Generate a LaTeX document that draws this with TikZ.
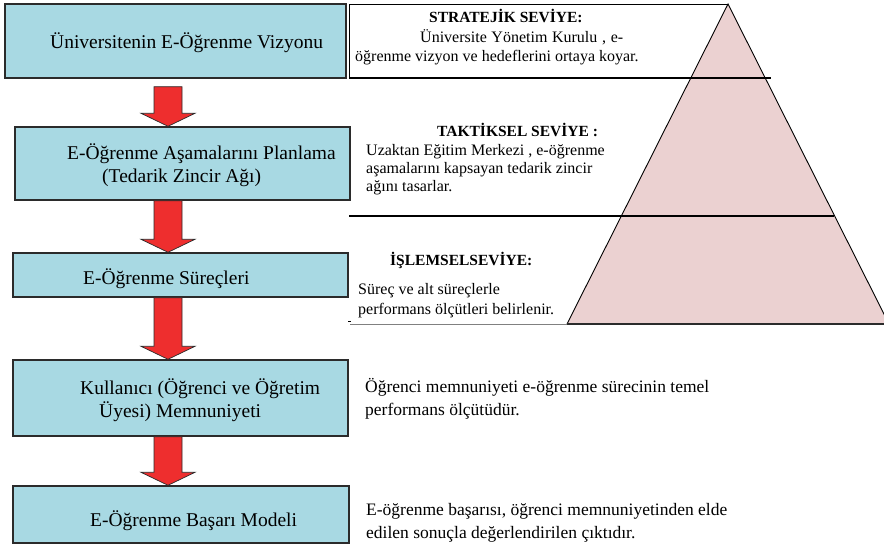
\documentclass[tikz,border=0pt]{standalone}
\usepackage{fontspec}
\setmainfont{LiberationSerif}[Extension=.ttf, UprightFont=*-Regular, BoldFont=*-Bold, ItalicFont=*-Italic, BoldItalicFont=*-BoldItalic]
\usetikzlibrary{calc}
\definecolor{boxblue}{HTML}{A8D9E3}
\definecolor{arrowred}{HTML}{EE2E2E}
\definecolor{pyrpink}{HTML}{EBD1D1}
\definecolor{edge}{HTML}{2B2B2B}
\tikzset{
  flowbox/.style={draw=edge, line width=1.4pt, fill=boxblue, inner sep=0pt},
  boxtext/.style={anchor=base west, inner sep=0pt, font=\fontsize{19.5}{23}\selectfont},
  pyrhead/.style={anchor=base west, inner sep=0pt, font=\fontsize{15.5}{18}\selectfont\bfseries},
  pyrtext/.style={anchor=base west, inner sep=0pt, font=\fontsize{16}{18}\selectfont},
  sidetext/.style={anchor=base west, inner sep=0pt, font=\fontsize{17.5}{21}\selectfont},
  redarrow/.style={draw=edge, line width=0.7pt, fill=arrowred},
  levelline/.style={draw=black, line width=1.2pt}
}
\newcommand\blockarrow[3]{% from node, to node, top gap
  \path let \p1=(#1.south), \p2=(#2.north) in
    [redarrow] (154pt,\y1-#3) -- (182pt,\y1-#3) -- (182pt,\y2+13pt) -- (195pt,\y2+13pt)
    -- (168pt,\y2) -- (141pt,\y2+13pt) -- (154pt,\y2+13pt) -- cycle;}
\begin{document}
\begin{tikzpicture}[x=1pt,y=-1pt]
\useasboundingbox (0,0) rectangle (884,546);
\clip (0,0) rectangle (884,546);
% pyramid
\fill[pyrpink] (728,4) -- (567,324) -- (889,324) -- cycle;
\draw[black, line width=0.9pt] (567,324) -- (728,4) -- (889,324);
\draw[edge, line width=2pt] (567,324) -- (884,324);
\draw[black, line width=0.8pt] (728,4) -- (349,4) -- (349,78);
\draw[levelline, line width=1.6pt] (349,78) -- (771,78);
\draw[levelline] (349,216) -- (834,216);
\draw[gray, line width=0.8pt] (350,324) -- (567,324);
\draw[black, line width=0.6pt] (348,321) -- (351,321);
% boxes
\node[flowbox, minimum width=341pt, minimum height=74pt] (b1) at (175.5,41) {};
\node[flowbox, minimum width=335pt, minimum height=73pt] (b2) at (182.5,163.5) {};
\node[flowbox, minimum width=335pt, minimum height=44pt] (b3) at (180.5,275) {};
\node[flowbox, minimum width=335pt, minimum height=76pt] (b4) at (180.5,398) {};
\node[flowbox, minimum width=336pt, minimum height=57pt] (b5) at (181,514.5) {};
% box texts
\node[boxtext] (t1) at (50,48) {Üniversitenin E-Öğrenme Vizyonu};
\node[boxtext] (t2a) at (67,159) {E-Öğrenme Aşamalarını Planlama};
\node[boxtext] (t2b) at (102,182) {(Tedarik Zincir Ağı)};
\node[boxtext] (t3) at (83,284) {E-Öğrenme Süreçleri};
\node[boxtext] (t4a) at (80,394) {Kullanıcı (Öğrenci ve Öğretim};
\node[boxtext] (t4b) at (99,417) {Üyesi) Memnuniyeti};
\node[boxtext] (t5) at (90,526) {E-Öğrenme Başarı Modeli};
% arrows
\blockarrow{b1}{b2}{8pt}
\blockarrow{b2}{b3}{0pt}
\blockarrow{b3}{b4}{0pt}
\blockarrow{b4}{b5}{0pt}
% pyramid texts
\node[pyrhead] (h1) at (429,23) {STRATEJİK SEVİYE:};
\node[pyrtext] (h1a) at (420,42) {\makebox[203pt][s]{Üniversite Yönetim Kurulu , e-}};
\node[pyrtext] (h1b) at (355,61) {öğrenme vizyon ve hedeflerini ortaya koyar.};
\node[pyrhead] (h2) at (437,136) {TAKTİKSEL SEVİYE :};
\node[pyrtext] (h2a) at (366,155) {Uzaktan Eğitim Merkezi , e-öğrenme};
\node[pyrtext] (h2b) at (366,173) {aşamalarını kapsayan tedarik zincir};
\node[pyrtext] (h2c) at (366,191) {ağını tasarlar.};
\node[pyrhead] (h3) at (390,265) {İŞLEMSELSEVİYE:};
\node[pyrtext] (h3a) at (358,294) {Süreç ve alt süreçlerle};
\node[pyrtext] (h3b) at (358,314) {performans ölçütleri belirlenir.};
% side texts
\node[sidetext] (s4a) at (365,392) {Öğrenci memnuniyeti e-öğrenme sürecinin temel};
\node[sidetext] (s4b) at (365,415) {performans ölçütüdür.};
\node[sidetext] (s5a) at (366,515) {E-öğrenme başarısı, öğrenci memnuniyetinden elde};
\node[sidetext] (s5b) at (366,538) {edilen sonuçla değerlendirilen çıktıdır.};
\end{tikzpicture}
\end{document}
